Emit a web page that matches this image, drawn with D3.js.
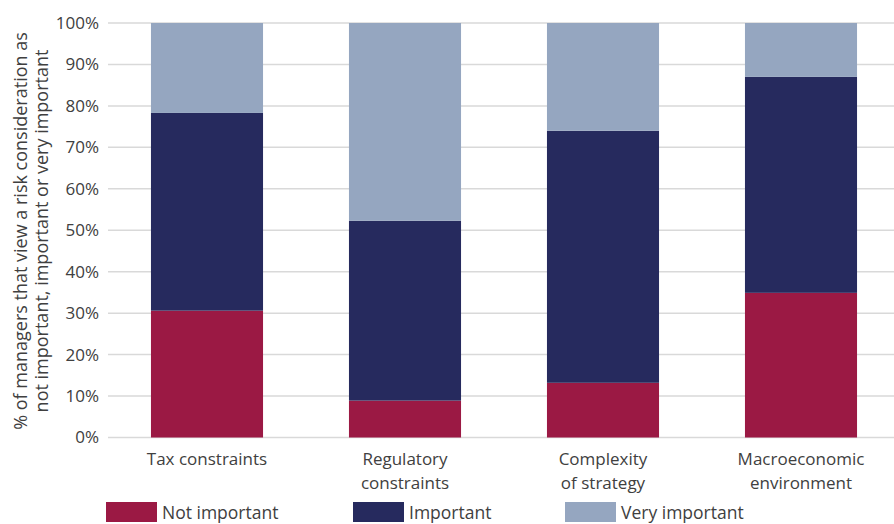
<!DOCTYPE html>
<html><head><meta charset="utf-8">
<script src="https://cdn.jsdelivr.net/npm/d3@7"></script>
<style>body{margin:0;background:#fff;} text{font-family:"Open Sans",sans-serif;fill:#404040;}</style>
</head><body><svg id="c" width="894" height="524"></svg>
<script>
const categories = [["Tax constraints"],["Regulatory","constraints"],["Complexity","of strategy"],["Macroeconomic","environment"]];
const seriesNames = ["Not important","Important","Very important"];
const notImportant = [30.6, 8.9, 13.2, 34.9];
const important = [47.7, 43.4, 60.8, 52.1];
const veryImportant = [21.7, 47.7, 26.0, 13.0];
const colors = ["#9b1944","#262a5e","#95a6c0"];
const yTicks = [0,10,20,30,40,50,60,70,80,90,100];

const svg = d3.select("#c");
const m = {l:108, t:23, b:87};
const W = 894, H = 524;
const x = d3.scaleBand().domain(categories.map((d,i)=>i)).range([m.l, 900]).paddingInner(0.434).paddingOuter(0.217);
const y = d3.scaleLinear().domain([0,100]).range([H-m.b+0.5, m.t]);

svg.append("g").selectAll("line").data(yTicks).join("line")
  .attr("x1", m.l).attr("x2", W).attr("y1", d=>y(d)).attr("y2", d=>y(d))
  .attr("stroke","#d9d9d9").attr("stroke-width",1.5);

const ya = svg.append("g").attr("transform",`translate(${m.l},0)`)
  .call(d3.axisLeft(y).tickValues(yTicks).tickFormat(d=>d+"%").tickSize(0).tickPadding(9));
ya.select(".domain").remove();
ya.selectAll("text").style("font-size","17px").attr("fill","#404040").style("font-family",null);

const data = categories.map((c,i)=>({i, "Not important":notImportant[i], "Important":important[i], "Very important":veryImportant[i]}));
const stack = d3.stack().keys(seriesNames)(data);
svg.selectAll("g.s").data(stack).join("g").attr("fill",(d,k)=>colors[k])
  .selectAll("rect").data(d=>d).join("rect")
  .attr("x", d=>x(d.data.i)).attr("width", x.bandwidth())
  .attr("y", d=>y(d[1])).attr("height", d=>y(d[0])-y(d[1]));

const xl = svg.append("g");
categories.forEach((c,i)=>{
  const cx = x(i)+x.bandwidth()/2;
  c.forEach((s,j)=>xl.append("text").attr("text-anchor","middle").attr("x", cx)
    .attr("y", 465 + j*23.5).style("font-size","17px").text(s));
});

const yl = svg.append("text").attr("transform","translate(27,231) rotate(-90)").attr("text-anchor","middle").style("font-size","18px");
yl.append("tspan").attr("x",0).attr("dy",0).text("% of managers that view a risk consideration as");
yl.append("tspan").attr("x",0).attr("dy",21).text("not important, important or very important");

const legX = [106,353,565];
const lg = svg.selectAll("g.leg").data(seriesNames).join("g").attr("transform",(d,i)=>`translate(${legX[i]},502)`);
lg.append("rect").attr("width",51).attr("height",20).attr("fill",(d,i)=>colors[i]);
lg.append("text").attr("x",56).attr("y",17).style("font-size","17.5px").text(d=>d);
</script></body></html>
